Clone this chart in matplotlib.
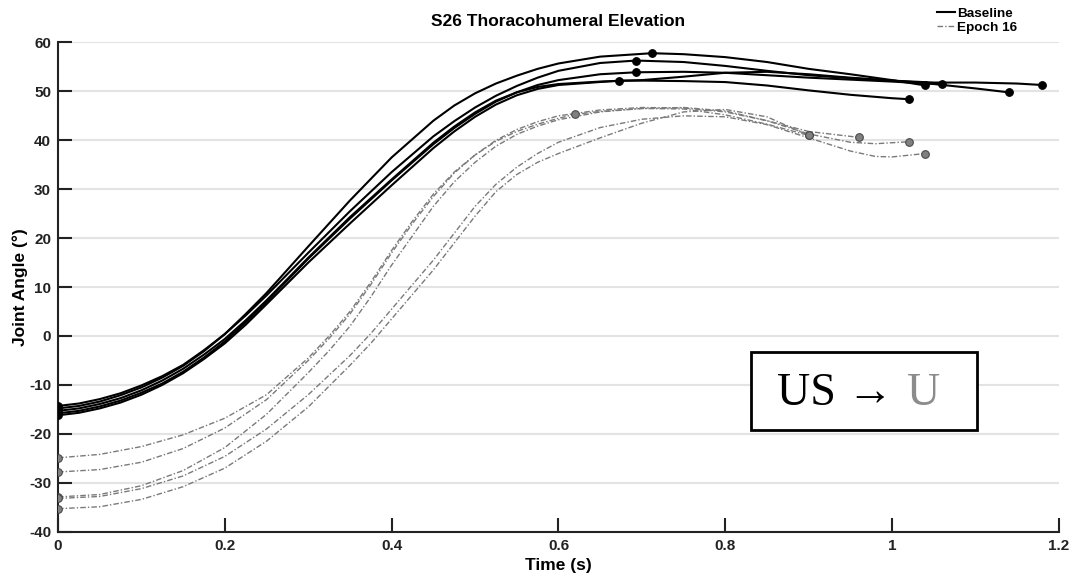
import matplotlib
matplotlib.use("Agg")
import matplotlib.pyplot as plt
from matplotlib.patches import Rectangle
from matplotlib.lines import Line2D

# ---- Baseline trials: time (s) and thoracohumeral elevation (deg) ----
base1_t = [0, 0.025, 0.05, 0.075, 0.1, 0.125, 0.15, 0.175, 0.2, 0.225, 0.25, 0.3, 0.35, 0.4, 0.45, 0.475, 0.5, 0.525, 0.55, 0.575, 0.6, 0.65, 0.712, 0.75, 0.8, 0.85, 0.9, 0.95, 1.0, 1.04]
base1_y = [-14.8, -14.3, -13.4, -12.1, -10.5, -8.5, -6.1, -3.1, 0.4, 4.5, 8.8, 18.3, 27.7, 36.5, 44.0, 47.1, 49.6, 51.6, 53.2, 54.6, 55.7, 57.1, 57.8, 57.6, 57.0, 56.0, 54.6, 53.5, 52.3, 51.2]

base2_t = [0, 0.025, 0.05, 0.075, 0.1, 0.125, 0.15, 0.175, 0.2, 0.225, 0.25, 0.3, 0.35, 0.4, 0.45, 0.475, 0.5, 0.525, 0.55, 0.575, 0.6, 0.65, 0.693, 0.75, 0.8, 0.85, 0.9, 0.95, 1.0, 1.06]
base2_y = [-14.3, -13.8, -12.9, -11.7, -10.1, -8.2, -5.9, -2.9, 0.4, 4.2, 8.3, 17.0, 25.5, 33.5, 40.8, 43.9, 46.7, 49.1, 51.1, 52.8, 54.2, 55.8, 56.3, 56.0, 55.2, 54.2, 53.3, 52.7, 52.2, 51.5]

base3_t = [0, 0.025, 0.05, 0.075, 0.1, 0.125, 0.15, 0.175, 0.2, 0.225, 0.25, 0.3, 0.35, 0.4, 0.45, 0.475, 0.5, 0.525, 0.55, 0.575, 0.6, 0.65, 0.693, 0.75, 0.8, 0.85, 0.9, 0.95, 1.0, 1.05, 1.1, 1.14]
base3_y = [-15.8, -15.3, -14.4, -13.2, -11.6, -9.7, -7.3, -4.4, -1.1, 2.8, 7.0, 15.8, 24.0, 31.8, 39.2, 42.5, 45.4, 47.9, 49.8, 51.3, 52.3, 53.5, 53.9, 54.0, 53.8, 53.3, 52.8, 52.4, 52.0, 51.5, 50.6, 49.8]

base4_t = [0, 0.025, 0.05, 0.075, 0.1, 0.125, 0.15, 0.175, 0.2, 0.225, 0.25, 0.3, 0.35, 0.4, 0.45, 0.475, 0.5, 0.525, 0.55, 0.575, 0.6, 0.673, 0.7, 0.75, 0.8, 0.85, 0.9, 0.95, 1.0, 1.02]
base4_y = [-16.2, -15.7, -14.8, -13.6, -12.0, -10.0, -7.6, -4.7, -1.5, 2.3, 6.5, 15.0, 23.0, 30.8, 38.4, 41.8, 44.8, 47.3, 49.2, 50.5, 51.3, 52.2, 52.2, 52.1, 51.9, 51.2, 50.2, 49.3, 48.6, 48.4]

base5_t = [0, 0.025, 0.05, 0.075, 0.1, 0.125, 0.15, 0.175, 0.2, 0.225, 0.25, 0.3, 0.35, 0.4, 0.45, 0.475, 0.5, 0.525, 0.55, 0.575, 0.6, 0.65, 0.7, 0.75, 0.8, 0.85, 0.9, 0.95, 1.0, 1.05, 1.1, 1.15, 1.18]
base5_y = [-15.3, -14.8, -13.9, -12.7, -11.1, -9.1, -6.7, -3.8, -0.6, 3.2, 7.3, 16.0, 24.3, 32.0, 39.5, 42.8, 45.7, 48.1, 49.8, 50.9, 51.5, 52.0, 52.3, 53.0, 53.8, 54.0, 53.5, 52.8, 52.2, 51.8, 51.8, 51.6, 51.3]

# time of the marked peak on each baseline trial (None = unmarked)
base_mark_t = [0.712, 0.693, 0.693, 0.673, None]

# ---- Epoch 16 trials ----
ep1_t = [0, 0.05, 0.1, 0.15, 0.2, 0.25, 0.3, 0.325, 0.35, 0.375, 0.4, 0.425, 0.45, 0.475, 0.5, 0.525, 0.55, 0.575, 0.6, 0.62, 0.65, 0.7, 0.75, 0.8, 0.85, 0.9]
ep1_y = [-24.9, -24.2, -22.6, -20.2, -16.8, -12.0, -4.5, 0.0, 5.0, 11.0, 17.5, 23.5, 29.0, 33.5, 37.0, 39.8, 41.8, 43.3, 44.5, 45.3, 45.9, 46.5, 46.4, 45.2, 43.3, 41.0]

ep2_t = [0, 0.05, 0.1, 0.15, 0.2, 0.25, 0.3, 0.325, 0.35, 0.375, 0.4, 0.425, 0.45, 0.475, 0.5, 0.525, 0.55, 0.575, 0.6, 0.65, 0.7, 0.75, 0.8, 0.85, 0.9, 0.96]
ep2_y = [-27.8, -27.3, -25.8, -23.0, -18.8, -13.0, -5.0, -0.5, 4.5, 10.5, 17.0, 23.0, 28.5, 33.3, 37.0, 40.0, 42.2, 43.8, 45.0, 46.2, 46.7, 46.6, 45.8, 44.0, 41.8, 40.6]

ep3_t = [0, 0.05, 0.1, 0.15, 0.2, 0.25, 0.3, 0.325, 0.35, 0.375, 0.4, 0.425, 0.45, 0.475, 0.5, 0.525, 0.55, 0.575, 0.6, 0.65, 0.7, 0.75, 0.8, 0.85, 0.9, 0.95, 0.98, 1.02]
ep3_y = [-32.9, -32.4, -30.6, -27.5, -22.8, -16.0, -7.5, -3.0, 2.0, 8.0, 14.5, 20.5, 26.5, 31.5, 35.5, 38.8, 41.2, 42.9, 44.2, 45.8, 46.5, 46.7, 46.0, 44.0, 41.3, 39.6, 39.3, 39.7]

ep4_t = [0, 0.05, 0.1, 0.15, 0.2, 0.25, 0.3, 0.35, 0.375, 0.4, 0.425, 0.45, 0.475, 0.5, 0.525, 0.55, 0.575, 0.6, 0.65, 0.7, 0.75, 0.8, 0.85, 0.9, 0.95, 0.98, 1.0, 1.04]
ep4_y = [-33.2, -32.8, -31.2, -28.6, -24.6, -19.0, -12.0, -4.0, 0.5, 5.5, 10.5, 15.5, 21.0, 26.5, 31.0, 34.5, 37.3, 39.6, 42.6, 44.3, 45.0, 44.8, 43.2, 40.5, 37.8, 36.7, 36.6, 37.3]

ep5_t = [0, 0.05, 0.1, 0.15, 0.2, 0.25, 0.3, 0.35, 0.375, 0.4, 0.425, 0.45, 0.475, 0.5, 0.525, 0.55, 0.575, 0.6, 0.65, 0.7, 0.75, 0.8, 0.85, 0.9]
ep5_y = [-35.3, -34.9, -33.4, -30.8, -27.0, -21.5, -14.5, -6.0, -1.5, 3.5, 8.5, 13.5, 19.0, 24.5, 29.5, 33.0, 35.5, 37.3, 40.5, 43.5, 45.8, 46.3, 44.8, 41.0]

ep_mark_t = [0.62, None, None, None, None]

x_ticks = [0, 0.2, 0.4, 0.6, 0.8, 1.0, 1.2]
x_tick_labels = ["0", "0.2", "0.4", "0.6", "0.8", "1", "1.2"]
y_ticks = [-40, -30, -20, -10, 0, 10, 20, 30, 40, 50, 60]

title_text = "S26 Thoracohumeral Elevation"
x_label = "Time (s)"
y_label = "Joint Angle (°)"
legend_labels = ["Baseline", "Epoch 16"]

plt.rcParams["font.family"] = ["Liberation Sans", "DejaVu Sans"]
plt.rcParams["font.weight"] = "bold"
plt.rcParams["axes.unicode_minus"] = False

fig = plt.figure(figsize=(10.75, 5.79), dpi=100)
ax = fig.add_axes([0.054, 0.0817, 0.931, 0.845])

BLACK = "#000000"
GREY = "#7a7a7a"
DASHDOT = (0, (4, 1.5, 1, 1.5))

def draw_trial(t, y, mark_t, color, ls, lw, face, edge, z):
    ax.plot(t, y, color=color, ls=ls, lw=lw, zorder=z)
    pts_t = [t[0], t[-1]]
    pts_y = [y[0], y[-1]]
    if mark_t is not None:
        i = t.index(mark_t)
        pts_t.append(t[i])
        pts_y.append(y[i])
    ax.plot(pts_t, pts_y, ls="none", marker="o", ms=5.5, mfc=face, mec=edge,
            mew=0.8, zorder=z + 1)

epochs = [(ep1_t, ep1_y), (ep2_t, ep2_y), (ep3_t, ep3_y), (ep4_t, ep4_y), (ep5_t, ep5_y)]
for (t, y), m in zip(epochs, ep_mark_t):
    draw_trial(t, y, m, GREY, DASHDOT, 1.0, "#808080", "#4a4a4a", 3)

baselines = [(base1_t, base1_y), (base2_t, base2_y), (base3_t, base3_y),
             (base4_t, base4_y), (base5_t, base5_y)]
for (t, y), m in zip(baselines, base_mark_t):
    draw_trial(t, y, m, BLACK, "-", 1.5, BLACK, BLACK, 5)

ax.set_xlim(0, 1.2)
ax.set_ylim(-40, 60)
ax.set_xticks(x_ticks)
ax.set_xticklabels(x_tick_labels)
ax.set_yticks(y_ticks)
ax.tick_params(direction="in", length=10, width=1.5, colors="#222222",
               labelsize=11, pad=5)
for lab in ax.get_xticklabels() + ax.get_yticklabels():
    lab.set_fontweight("bold")
    lab.set_color("#222222")

for s in ("top", "right"):
    ax.spines[s].set_visible(False)
for s in ("left", "bottom"):
    ax.spines[s].set_linewidth(1.5)
    ax.spines[s].set_color("#222222")

ax.yaxis.grid(True, color="#e3e3e3", lw=1.5)
ax.set_axisbelow(True)

ax.set_title(title_text, fontsize=12.5, fontweight="bold", pad=11.5)
ax.set_xlabel(x_label, fontsize=12.5, fontweight="bold")
ax.set_ylabel(y_label, fontsize=12.5, fontweight="bold")
ax.yaxis.set_label_coords(-0.038, 0.5)
ax.xaxis.set_label_coords(0.5, -0.070)
ax.xaxis.label.set_va("center")
ax.yaxis.label.set_va("center")

handles = [Line2D([], [], color=BLACK, lw=1.5),
           Line2D([], [], color=GREY, lw=1.0, ls=DASHDOT)]
leg = fig.legend(handles, legend_labels, loc="upper left",
                 bbox_to_anchor=(0.8712, 0.987), frameon=False,
                 fontsize=9.7, handlelength=1.4, handletextpad=0.15,
                 labelspacing=0.1, borderaxespad=0.0, borderpad=0.0)
for txt in leg.get_texts():
    txt.set_fontweight("bold")

# Annotation box: US -> U
ax.add_patch(Rectangle((0.831, -19.2), 0.271, 15.9, transform=ax.transData,
                       facecolor="white", edgecolor="black", lw=2,
                       zorder=8, clip_on=False))
serif = ["Liberation Serif", "DejaVu Serif"]
lhs = ax.text(0.862, -14.1, "US \u2192", fontsize=33, family=serif,
              fontweight="normal", color="black", ha="left", va="baseline",
              zorder=9)
ax.annotate("U", xy=(1, 0), xycoords=lhs, xytext=(10, 0),
            textcoords="offset points", fontsize=33, family=serif,
            fontweight="normal", color="#8c8c8c", ha="left", va="bottom",
            zorder=9)

fig.savefig("out.png", dpi=100)
